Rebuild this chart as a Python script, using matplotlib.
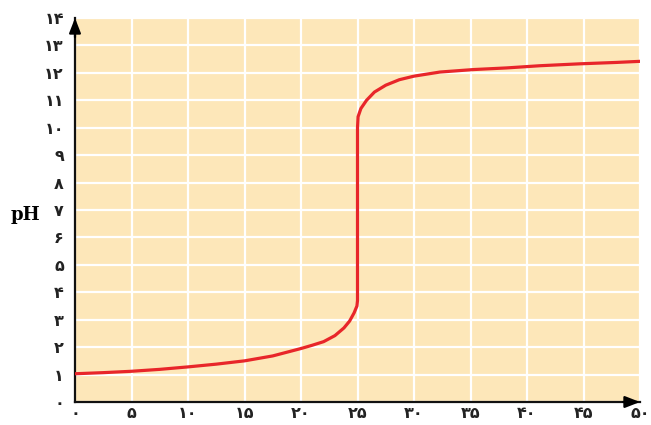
import matplotlib
matplotlib.use("Agg")
import matplotlib.pyplot as plt

# Data
volume = [0, 2.5, 5, 7.5, 10, 12.5, 15, 17.5, 20, 21, 22, 23, 23.8, 24.3, 24.7, 24.95,
          25, 25, 25.05, 25.3, 25.8, 26.5, 27.5, 28.7, 30, 32.3, 35.25, 38.2, 41.15, 44.7, 47.9, 50]
ph = [1.03, 1.07, 1.12, 1.19, 1.28, 1.38, 1.5, 1.68, 1.95, 2.07, 2.2, 2.42, 2.7, 2.95, 3.25, 3.5,
      3.7, 10.0, 10.4, 10.7, 11.0, 11.3, 11.55, 11.75, 11.88, 12.03, 12.12, 12.18, 12.26, 12.33, 12.38, 12.42]

x_ticks = [0, 5, 10, 15, 20, 25, 30, 35, 40, 45, 50]
x_labels = ["۰", "۵", "۱۰", "۱۵", "۲۰", "۲۵", "۳۰", "۳۵", "۴۰", "۴۵", "۵۰"]
y_ticks = list(range(0, 15))
y_labels = ["۰", "۱", "۲", "۳", "۴", "۵", "۶", "۷", "۸", "۹", "۱۰", "۱۱", "۱۲", "۱۳", "۱۴"]

fig = plt.figure(figsize=(6.51, 4.25), dpi=100)
ax = fig.add_axes([75/651, 23/425, 565/651, 384/425])
ax.set_facecolor("#FDE7B9")

ax.set_xlim(0, 50)
ax.set_ylim(0, 14)
ax.set_xticks(x_ticks)
ax.set_xticklabels(x_labels)
ax.set_yticks(y_ticks)
ax.set_yticklabels(y_labels)
ax.tick_params(length=0, labelsize=11.5, colors="#222222")
ax.tick_params(axis="y", pad=8)
ax.tick_params(axis="x", pad=3)
for lab in ax.get_xticklabels() + ax.get_yticklabels():
    lab.set_fontweight("bold")

ax.grid(True, color="white", linewidth=1.6)
ax.set_axisbelow(True)

for s in ["top", "right"]:
    ax.spines[s].set_visible(False)
for s in ["left", "bottom"]:
    ax.spines[s].set_linewidth(1.6)
    ax.spines[s].set_color("#111111")

ax.plot(volume, ph, color="#E8262A", linewidth=2.3, solid_joinstyle="round", zorder=3)

# axis arrows
ax.annotate("", xy=(0, 14), xytext=(0, 13.3),
            arrowprops=dict(arrowstyle="-|>,head_length=0.9,head_width=0.35",
                            color="black", lw=1.6, shrinkA=0, shrinkB=0),
            annotation_clip=False)
ax.annotate("", xy=(50, 0), xytext=(48.5, 0),
            arrowprops=dict(arrowstyle="-|>,head_length=0.9,head_width=0.35",
                            color="black", lw=1.6, shrinkA=0, shrinkB=0),
            annotation_clip=False)

fig.text(25/651, 1 - 215/425, "pH", family="DejaVu Serif", fontweight="bold",
         fontsize=13, ha="center", va="center")

fig.savefig("out.png", dpi=100)
